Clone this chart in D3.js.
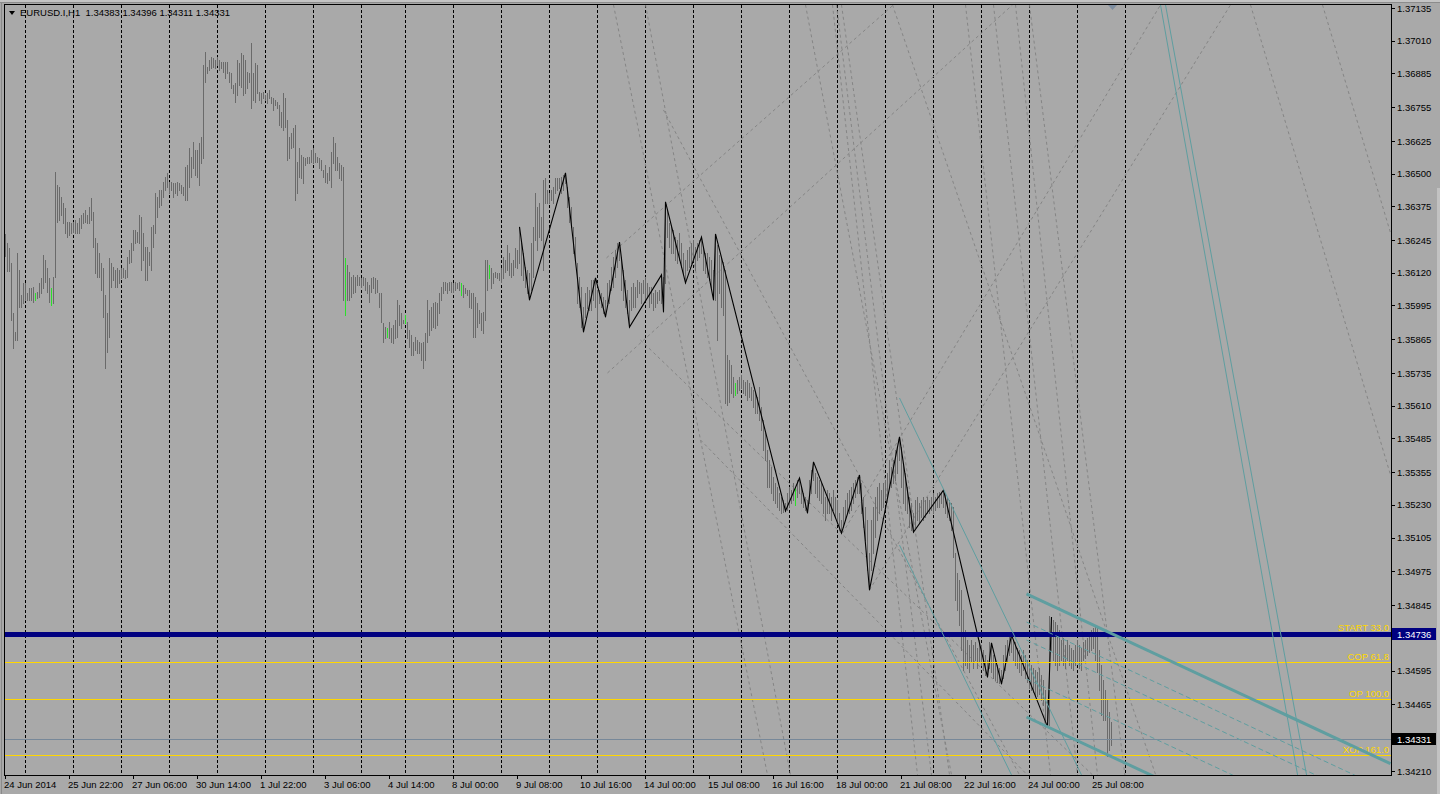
<!DOCTYPE html>
<html><head><meta charset="utf-8">
<script src="https://cdn.jsdelivr.net/npm/d3@7/dist/d3.min.js"></script>
<style>
html,body{margin:0;padding:0;background:#a9a9a9;overflow:hidden}
svg{display:block}
text{font-family:"Liberation Sans",Arial,sans-serif;font-size:9.5px;white-space:pre}
</style></head><body>
<svg id="c" width="1440" height="794"></svg>
<script>
// ---------- DATA (prices as points above 1.30000, 1 point = 0.00001) ----------
const PRICE_BASE = 1.3, POINT = 0.00001;
const symbolTitle = "EURUSD.I,H1";
const headerOHLC = [1.34383, 1.34396, 1.34311, 1.34331];

const barHigh = [
6269,6234,6215,6158,5966,5893,6196,6131,6035,6081,6081,6042,6062,6062,6066,6042,6046,6081,6100,6188,
6169,6138,6100,6062,6104,6506,6457,6449,6411,6388,6368,6315,6315,6311,6315,6323,6311,6330,6342,6349,
6361,6342,6372,6407,6353,6253,6234,6196,6158,6138,6035,5966,6177,6158,6142,6131,6138,6131,6138,6138,
6131,6181,6208,6234,6284,6284,6276,6342,6334,6273,6219,6219,6200,6296,6303,6426,6411,6438,6438,6468,
6487,6502,6468,6468,6464,6464,6468,6464,6457,6449,6526,6534,6598,6564,6621,6591,6591,6617,6641,6917,
6966,6909,6936,6947,6943,6936,6947,6936,6928,6928,6928,6928,6890,6886,6840,6847,6936,6924,6962,6955,
6936,6890,6886,7001,6886,6924,6917,6813,6809,6813,6802,6809,6821,6794,6790,6783,6775,6764,6736,6809,
6790,6706,6641,6656,6675,6687,6545,6598,6572,6564,6560,6564,6564,6591,6598,6579,6564,6560,6553,6514,
6534,6502,6526,6583,6641,6617,6564,6541,6534,6526,6177,6150,6123,6104,6112,6104,6112,6104,6100,6104,
6100,6085,6073,6100,6104,6100,6093,6042,6042,5928,5912,5908,5931,5908,5920,5939,6016,5997,5966,5939,
5958,5931,5901,5882,5855,5874,5862,5855,5851,5855,5889,6016,5977,5989,6004,6008,6004,6042,6066,6085,
6085,6081,6085,6085,6081,6085,6081,6085,6081,6073,6062,6054,6054,6042,6042,6027,6004,5977,5966,5970,
6169,6169,6150,6138,6119,6123,6119,6119,6138,6181,6169,6227,6196,6158,6169,6215,6208,6296,6234,6196,
6142,6131,6119,6234,6296,6426,6372,6388,6334,6476,6483,6438,6426,6438,6449,6483,6483,6483,6487,6495,
6503,6449,6411,6372,6296,6257,6158,6104,6066,5989,6042,6066,6054,6093,6093,6100,6054,6054,6042,6027,
6016,6081,6093,6142,6181,6208,6234,6238,6181,6131,6093,6054,6016,6066,6081,6066,6093,6085,6081,6093,
6104,6081,6066,6066,6042,6054,6046,6054,6112,6104,6392,6361,6311,6296,6284,6257,6246,6273,6234,6196,
6169,6208,6219,6234,6246,6219,6234,6246,6257,6219,6196,6196,6181,6169,6131,6269,6227,6188,6177,6161,
6131,5805,5786,5767,5721,5698,5709,5721,5728,5709,5701,5709,5698,5682,5671,5659,5644,5682,5606,5556,
5506,5441,5402,5376,5337,5314,5299,5276,5260,5249,5238,5276,5299,5287,5314,5299,5326,5333,5299,5276,
5260,5249,5326,5364,5395,5353,5337,5326,5314,5299,5260,5287,5276,5260,5287,5260,5249,5199,5172,5222,
5249,5276,5287,5299,5314,5326,5337,5345,5314,5260,5222,5172,5046,5172,5222,5260,5299,5314,5287,5314,
5326,5353,5402,5376,5402,5441,5452,5491,5452,5391,5353,5299,5260,5238,5199,5249,5260,5238,5249,5260,
5249,5260,5249,5260,5276,5260,5276,5280,5276,5287,5276,5257,5249,5238,5222,5046,4969,4942,4904,4827,
4751,4712,4693,4712,4693,4705,4682,4712,4693,4674,4655,4636,4705,4701,4655,4636,4616,4605,4597,4655,
4693,4712,4731,4731,4712,4705,4682,4674,4655,4674,4655,4636,4628,4616,4605,4597,4590,4605,4578,4559,
4521,4482,4804,4800,4790,4780,4770,4751,4712,4720,4693,4712,4693,4682,4674,4693,4712,4693,4682,4705,
4712,4720,4731,4751,4758,4770,4758,4674,4616,4559,4521,4482,4436,4396];

const barLow = [
6185,6127,6127,5939,5832,5862,5862,5989,5989,6004,6016,6016,6016,6016,6008,6016,6023,6027,6042,6062,
6085,6046,6008,5997,6004,6104,6315,6323,6342,6311,6273,6257,6265,6273,6276,6273,6273,6273,6292,6311,
6315,6311,6311,6323,6219,6119,6104,6104,6054,5951,5755,5816,5874,6066,6093,6066,6066,6081,6100,6104,
6100,6104,6158,6161,6208,6234,6238,6234,6131,6169,6093,6093,6150,6131,6219,6273,6334,6372,6380,6411,
6438,6449,6426,6438,6411,6426,6418,6438,6426,6418,6399,6399,6449,6487,6522,6495,6487,6457,6541,6560,
6851,6886,6898,6905,6909,6905,6917,6898,6905,6890,6867,6886,6851,6828,6809,6775,6802,6840,6832,6802,
6809,6828,6851,6752,6783,6775,6809,6783,6771,6790,6783,6771,6790,6771,6744,6764,6752,6687,6679,6668,
6679,6553,6560,6598,6602,6399,6426,6487,6483,6464,6534,6541,6541,6545,6541,6545,6545,6522,6514,6487,
6468,6464,6476,6449,6541,6514,6514,6483,6476,6016,5958,6016,6016,6027,6042,6046,6073,6073,6066,6073,
6054,6042,6008,6046,6062,6042,6046,5989,5931,5855,5870,5874,5870,5855,5851,5870,5874,5920,5908,5928,
5928,5870,5836,5805,5805,5824,5813,5813,5786,5755,5786,5855,5882,5901,5912,5908,5920,5966,6016,6042,
6054,6042,6054,6046,6046,6054,6062,6054,6035,6027,6042,6035,5989,5985,5874,5874,5912,5928,5901,5889,
5939,6054,6100,6062,6081,6104,6100,6093,6085,6100,6123,6131,6112,6104,6112,6142,6138,6158,6112,6093,
6066,6042,6016,6054,6104,6246,6208,6257,6246,6131,6388,6388,6388,6399,6388,6426,6438,6445,6426,6438,
6464,6372,6315,6296,6196,6169,6004,5989,5912,5893,5951,5985,5977,5977,6016,5989,5939,6004,5989,5966,
5951,6004,6004,6054,6066,6104,6142,6169,6054,6016,5989,5966,5912,5977,5989,5989,6027,6042,6004,6042,
6016,6027,5989,6004,5977,5989,6004,6016,6004,5970,6081,6257,6219,6196,6196,6169,6158,6169,6142,6119,
6081,6131,6142,6158,6169,6131,6169,6181,6196,6131,6119,6104,6093,6066,6016,6016,5862,6042,5989,5958,
5621,5613,5625,5659,5644,5652,5659,5671,5678,5659,5652,5632,5644,5632,5606,5583,5583,5556,5517,5441,
5402,5299,5299,5276,5249,5238,5222,5211,5199,5203,5207,5211,5222,5238,5249,5230,5260,5276,5238,5222,
5211,5199,5238,5276,5326,5276,5260,5249,5238,5199,5172,5199,5199,5172,5211,5184,5161,5134,5122,5146,
5172,5199,5199,5211,5238,5260,5276,5276,5199,5146,5096,4981,4904,4981,5046,5107,5172,5199,5211,5222,
5249,5260,5299,5299,5314,5326,5353,5402,5299,5238,5211,5199,5146,5134,5126,5146,5172,5161,5184,5172,
5184,5199,5199,5211,5199,5211,5222,5222,5238,5222,5199,5184,5172,5134,5031,4866,4827,4770,4674,4597,
4616,4605,4590,4628,4605,4636,4605,4628,4616,4597,4578,4570,4605,4590,4567,4559,4551,4547,4544,4567,
4597,4628,4655,4666,4636,4616,4605,4590,4578,4597,4567,4551,4528,4521,4513,4501,4498,4505,4482,4463,
4406,4379,4386,4674,4636,4616,4597,4616,4636,4616,4605,4636,4616,4605,4597,4616,4628,4605,4597,4636,
4643,4655,4666,4674,4682,4636,4590,4521,4425,4406,4406,4267,4291,4311];

const greenBars = [15,23,170,191,200,228,242,365,395];

// zigzag turning points [bar index, points]
const zigzag = [[257,6296],[262,6016],[280,6503],[289,5893],[295,6100],[300,5951],[307,6238],[312,5912],
 [328,6112],[329,5970],[330,6392],[340,6081],[348,6257],[354,6016],[355,6269],[390,5207],[397,5333],
 [401,5199],[404,5395],[418,5122],[427,5345],[432,4904],[447,5491],[454,5126],[469,5287],[491,4570],
 [493,4701],[498,4544],[503,4731],[521,4379],[523,4800]];

// day separators (bar index of 00:00)
const daySeparators = [10,34,58,82,106,130,154,178,200,224,248,272,296,320,344,368,392,416,440,464,488,512,536,560];
const dateTickIndex = [0,32,64,96,128,160,192,224,256,288,320,352,384,416,448,480,512,544];
const dateLabels = ["24 Jun 2014","25 Jun 22:00","27 Jun 06:00","30 Jun 14:00","1 Jul 22:00","3 Jul 06:00",
 "4 Jul 14:00","8 Jul 00:00","9 Jul 08:00","10 Jul 16:00","14 Jul 00:00","15 Jul 08:00","16 Jul 16:00",
 "18 Jul 00:00","21 Jul 08:00","22 Jul 16:00","24 Jul 00:00","25 Jul 08:00"];

// visible price-scale labels (those hidden behind the price boxes are omitted)
const priceTicks = [1.37135,1.37010,1.36885,1.36755,1.36625,1.36500,1.36375,1.36245,1.36120,1.35995,1.35865,
 1.35735,1.35610,1.35485,1.35355,1.35230,1.35105,1.34975,1.34845,1.34595,1.34465,1.34210];
const hiddenTicks = [1.34720,1.34335];

const levelNames = ["START 33.0","COP 61.8","OP 100.0","XOP 161.0"];
const levelPrices = [1.34736,1.34628,1.34486,1.34271];
const bidPrice = 1.34331;

// trend objects: [barIndex1, points1, barIndex2, points2]
const grayTrendLines = [
 [300.5,6177,444,7147],[301,5736,503.5,7147],[418.5,5122,577.5,7147],[432,4904,612.5,7147],
 [304,7147,381,4195],[320,7147,392.5,4195],[400,7147,473,4195],[413.5,7147,456,4195],[415.5,7147,463,4195],
 [418,7147,472,4195],[480,7147,522.5,4195],[494,7147,536,4195],[505,7147,546,4195],[512,7147,560,4175],
 [443.5,7147,576,4175],[658.5,7147,692.5,6273],[622.5,7147,692.5,5345],
 [329,6744,507,4195],[317.5,5862,543.5,4195],[347.5,5479,510,4202]];
const tealThinLines = [[447,5640,538,4195],[447,5076,503,4195],[577.5,7147,646.5,4175],[580,7147,651,4175]];
const tealThickLines = [[510.5,4889,692.5,4238],[510.5,4417,692.5,3766]];
const tealDashedLines = [[510.5,4781,692.5,4130],[510.5,4712,692.5,4061],[510.5,4563,692.5,3912]];

// ---------- DRAW ----------
const P = v => PRICE_BASE + v * POINT;
const W = 1440, H = 794;
const L = 5, T = 5, R = 1391, B = 775;
const x = d3.scaleLinear().domain([0, 693]).range([L, R]);          // 2 px per hourly bar
const y = d3.scaleLinear().domain([1.34210, 1.37135]).range([771, 8]);
const fmt = d3.format(".5f");

const svg = d3.select("#c");
svg.append("rect").attr("width", W).attr("height", H).attr("fill", "#a9a9a9");
// window frame bits
svg.append("rect").attr("x",0).attr("y",0).attr("width",W).attr("height",2).attr("fill","#c4c4c4");
svg.append("line").attr("x1",0).attr("x2",W).attr("y1",2.5).attr("y2",2.5).attr("stroke","#8c8c8c");
svg.append("line").attr("x1",1.5).attr("x2",1.5).attr("y1",3).attr("y2",H).attr("stroke","#8a8a8a");
svg.append("rect").attr("x",1437).attr("y",188).attr("width",3).attr("height",H-188).attr("fill","#c2c2c2");

svg.append("defs").append("clipPath").attr("id","plot")
  .append("rect").attr("x",L).attr("y",T).attr("width",R-L).attr("height",B-T);
const plot = svg.append("g").attr("clip-path","url(#plot)");

// day separators
plot.append("g").attr("shape-rendering","crispEdges").selectAll("line").data(daySeparators).join("line")
  .attr("x1", d => x(d)+0.5).attr("x2", d => x(d)+0.5).attr("y1", T).attr("y2", B)
  .attr("stroke","#000").attr("stroke-dasharray","3,2");

const seg = (g, data, color, width, dash) => g.append("g").selectAll("line").data(data).join("line")
  .attr("x1", d => x(d[0])+0.5).attr("y1", d => y(P(d[1])))
  .attr("x2", d => x(d[2])+0.5).attr("y2", d => y(P(d[3])))
  .attr("stroke", color).attr("stroke-width", width).attr("stroke-dasharray", dash || null)
  .attr("fill","none");

seg(plot, grayTrendLines, "#858585", 1, "3,3");

// bars
const n = Math.min(barHigh.length, barLow.length);
plot.append("g").attr("shape-rendering","crispEdges").selectAll("rect").data(d3.range(n)).join("rect")
  .attr("x", i => x(i))
  .attr("y", i => Math.round(y(P(barHigh[i]))))
  .attr("width", 1)
  .attr("height", i => Math.max(1, Math.round(y(P(barLow[i]))) - Math.round(y(P(barHigh[i]))) + 1))
  .attr("fill", i => greenBars.includes(i) ? "#2be02b" : "#6a6a6a");

// zigzag
plot.append("path").datum(zigzag)
  .attr("d", d3.line().x(d => x(d[0])+0.5).y(d => y(P(d[1]))))
  .attr("fill","none").attr("stroke","#000").attr("stroke-width",1.1);

// horizontal levels
const hl = plot.append("g").attr("shape-rendering","crispEdges");
hl.append("line").attr("x1",L).attr("x2",R).attr("y1",Math.round(y(bidPrice))+0.5).attr("y2",Math.round(y(bidPrice))+0.5)
  .attr("stroke","#778899");
levelPrices.forEach((p,k) => {
  const yy = Math.round(y(p)) + 0.5;
  hl.append("line").attr("x1",L).attr("x2",R).attr("y1",yy).attr("y2",yy)
    .attr("stroke", k===0 ? "#000080" : "#ffd700").attr("stroke-width", k===0 ? 5 : 1);
});
levelPrices.forEach((p,k) => {
  const yy = Math.round(y(p)) + 0.5;
  plot.append("text").attr("x",1389).attr("y", yy - (k===0 ? 3.5 : 2.5)).attr("text-anchor","end")
    .attr("fill","#ffd700").text(levelNames[k]);
});

// teal objects
seg(plot, tealThinLines, "#5f9ea0", 1);
seg(plot, tealDashedLines, "#5f9ea0", 1, "5,3");
seg(plot, tealThickLines, "#5f9ea0", 3);

// shift marker
svg.append("path").attr("d","M1108,5 L1117,5 L1112.5,10 Z").attr("fill","#7d8da0");

// frame
svg.append("rect").attr("x",4.5).attr("y",4.5).attr("width",R-4).attr("height",B-4)
  .attr("fill","none").attr("stroke","#000").attr("shape-rendering","crispEdges");

// right price axis
const ax = svg.append("g");
priceTicks.concat(hiddenTicks).forEach(p => {
  const yy = Math.round(y(p)) + 0.5;
  ax.append("line").attr("x1",R).attr("x2",R+4).attr("y1",yy).attr("y2",yy).attr("stroke","#000")
    .attr("shape-rendering","crispEdges");
});
priceTicks.forEach(p => {
  ax.append("text").attr("x",1397).attr("y",y(p)+3.5).attr("fill","#000").text(fmt(p));
});
// price boxes
[[levelPrices[0],"#000080"],[bidPrice,"#000"]].forEach(([p,c]) => {
  const yy = Math.round(y(p));
  ax.append("rect").attr("x",R+1).attr("y",yy-6).attr("width",44).attr("height",12).attr("fill",c);
  ax.append("text").attr("x",1397).attr("y",yy+3.5).attr("fill","#fff").text(fmt(p));
});

// bottom time axis
dateTickIndex.forEach((i,k) => {
  const xx = x(i) + 0.5;
  ax.append("line").attr("x1",xx).attr("x2",xx).attr("y1",B).attr("y2",B+4).attr("stroke","#000")
    .attr("shape-rendering","crispEdges");
  ax.append("text").attr("x",x(i)-1).attr("y",788).attr("fill","#000").text(dateLabels[k]);
});

// header
svg.append("path").attr("d","M9,11 L15,11 L12,15 Z").attr("fill","#000");
svg.append("text").attr("x",20).attr("y",16).attr("fill","#000")
  .text(symbolTitle + "  " + headerOHLC.map(fmt).join(" "));
</script>
</body></html>
